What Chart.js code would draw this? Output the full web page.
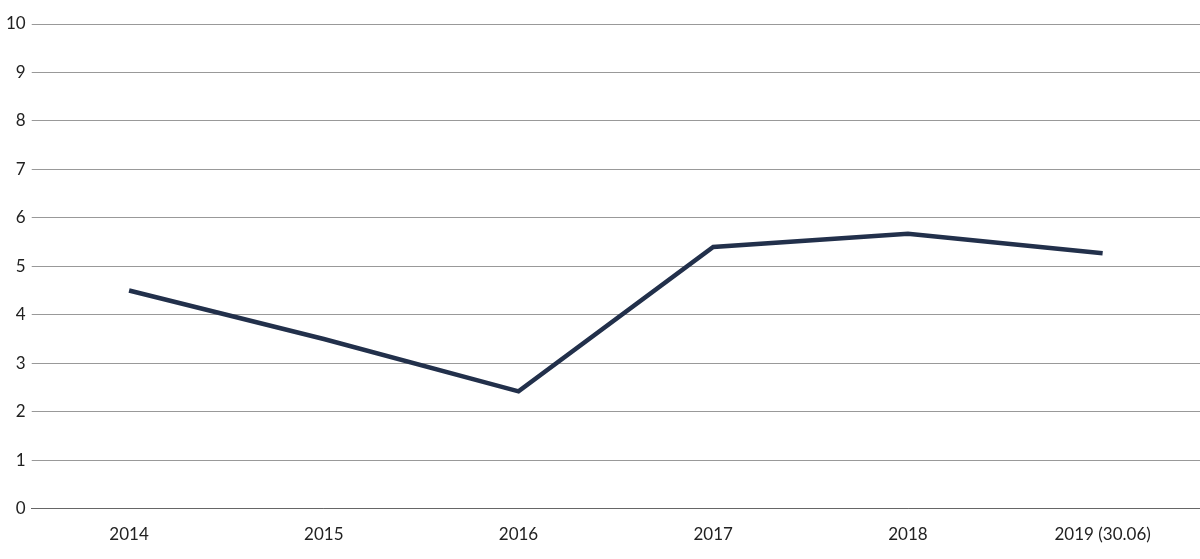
<!DOCTYPE html>
<html><head><meta charset="utf-8">
<script src="https://cdn.jsdelivr.net/npm/chart.js@4"></script>
<style>html,body{margin:0;padding:0;background:#fff}#w{width:1200px;height:559px}</style>
</head><body><div id="w"><canvas id="c"></canvas></div>
<script>
const categories = ["2014","2015","2016","2017","2018","2019 (30.06)"];
const values = [4.5, 3.5, 2.42, 5.4, 5.67, 5.27];
const yTicks = [0,1,2,3,4,5,6,7,8,9,10];
new Chart(document.getElementById('c'), {
  type: 'line',
  data: { labels: categories, datasets: [{ data: values, borderColor: '#22304b', borderWidth: 4.5, pointRadius: 0, tension: 0, fill: false }] },
  options: {
    responsive: true, maintainAspectRatio: false, animation: false,
    layout: { padding: { top: 24, right: 0, bottom: 6, left: 0 } },
    plugins: { legend: { display: false }, tooltip: { enabled: false } },
    scales: {
      x: { offset: true, grid: { display: false }, border: { display: true, color: '#666' },
           ticks: { color: '#222', font: { family: 'Lato', size: 17 }, padding: 8 } },
      y: { min: 0, max: 10, afterBuildTicks: a => { a.ticks = yTicks.map(v => ({ value: v })); },
           grid: { color: '#999', drawTicks: true, tickLength: 0 }, border: { display: false },
           ticks: { color: '#222', font: { family: 'Lato', size: 17 }, padding: 6 } }
    }
  }
});
</script></body></html>
